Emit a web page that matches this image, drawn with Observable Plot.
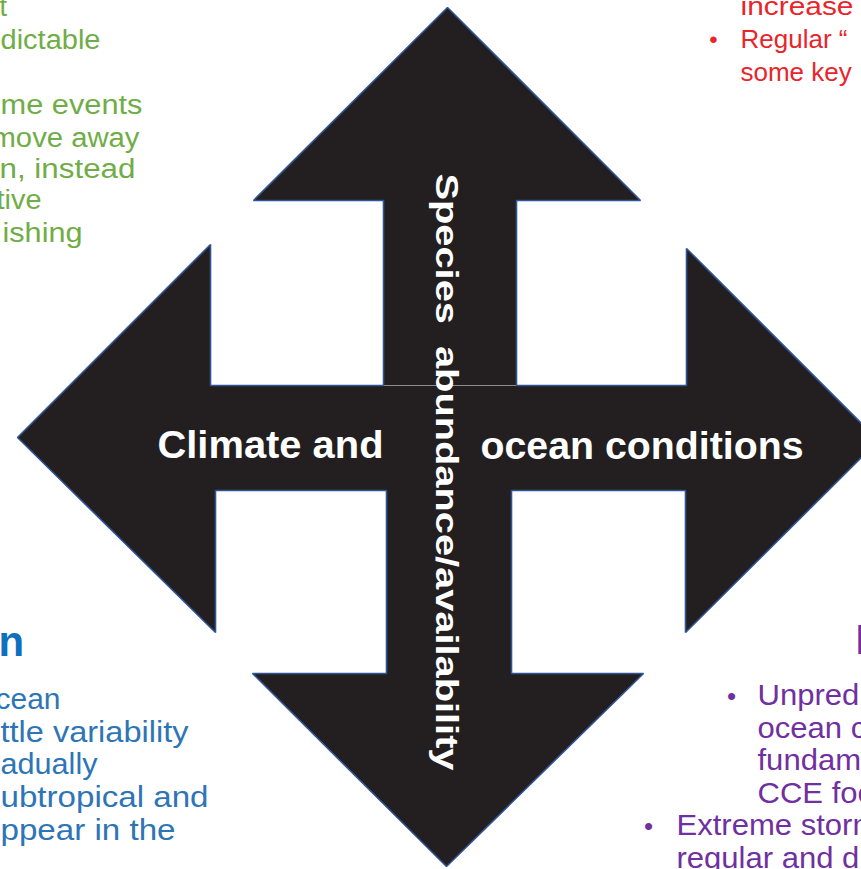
<!DOCTYPE html>
<html>
<head>
<meta charset="utf-8">
<script src="https://cdn.jsdelivr.net/npm/d3@7"></script>
<script src="https://cdn.jsdelivr.net/npm/@observablehq/plot@0.6"></script>
<style>
  html, body { margin: 0; padding: 0; background: #fff; overflow: hidden; }
  #chart svg { display: block; }
</style>
</head>
<body>
<div id="chart"></div>
<script>
// ---- Diagram content ----
// Outline of the four-headed arrow (diagram coordinates)
const arrowOutline = [
  [447, 7], [640, 200], [516, 200], [516, 385], [686, 385], [686, 248],
  [878, 440], [685, 632], [685, 490], [511, 490], [511, 673], [643, 673],
  [446, 866], [252, 673], [386, 673], [386, 490], [215, 490], [215, 632],
  [17, 437], [210, 244], [210, 385], [383, 385], [383, 200], [253, 200], [447, 7]
];
const seam = [[384, 385], [515, 385]];

// Texts
const centreLeftText = "Climate and";
const centreRightText = "ocean conditions";
const verticalText = "Species  abundance/availability";

const greenText = ["t", "dictable", "me events", "move away", "n, instead", "tive", "ishing"];
const redText = ["increase", "Regular \u201C", "some key"];
const blueTitle = "n";
const blueText = ["cean", "ttle variability", "adually", "ubtropical and", "ppear in the"];
const purpleTitle = "P";
const purpleText = ["Unpredictable", "ocean conditions", "fundamentally", "CCE food", "Extreme storms", "regular and dramatic"];

// ---- Layout (diagram coordinates: start x, baseline y, end x) ----
const centreLayout = [[157, 457, 383], [480, 458, 803]];
const verticalLayout = [435, 173, 770]; // baseline x, start y, end y
const greenLayout = [[-1, 15, null], [0, 48, 100], [0, 113, 142], [-9, 146, 139], [-1, 177, 135], [-4, 208, 41], [2, 241, 82]];
const redLayout = [[740, 14, 853], [740, 47, null], [740, 80, null]];
const redBullets = [[713, 47]];
const blueLayout = [[-5, 708, 60], [0, 741, 188], [0, 773, 97], [0, 806, 208], [0, 839, 175]];
const purpleLayout = [[757, 704], [757, 737], [757, 769], [757, 802], [676, 834], [676, 867]];
const purpleBullets = [[731, 704], [648, 834]];
const purpleStretch = 1.07;

const FONT = "Liberation Sans, Arial, Helvetica, sans-serif";

function rows(texts, layout) {
  return texts.map((t, i) => ({t, x: layout[i][0], y: layout[i][1], end: layout[i][2] ?? null}));
}
const centreRows = rows([centreLeftText, centreRightText], centreLayout);
const verticalRows = [{t: verticalText, x: verticalLayout[0], y: verticalLayout[1], start: verticalLayout[1], end: verticalLayout[2]}];
const greenRows = rows(greenText, greenLayout);
const redRows = rows(redText, redLayout);
const blueRows = rows(blueText, blueLayout);
const purpleRows = rows(purpleText, purpleLayout);

function textMark(data, opts) {
  return Plot.text(data, {
    x: "x", y: "y", text: "t",
    textAnchor: "start", lineAnchor: "bottom",
    fontFamily: FONT, ...opts
  });
}

const chart = Plot.plot({
  width: 861,
  height: 869,
  margin: 0,
  style: {background: "#ffffff", fontFamily: FONT},
  x: {domain: [0, 861], range: [0, 861], axis: null},
  y: {domain: [0, 869], range: [0, 869], axis: null},
  marks: [
    Plot.line(arrowOutline, {
      x: d => d[0], y: d => d[1],
      fill: "#231f20", stroke: "#2f5597", strokeWidth: 1.6,
      strokeLinejoin: "miter", strokeLinecap: "butt"
    }),
    Plot.line(seam, {x: d => d[0], y: d => d[1], stroke: "#8c8c8c", strokeWidth: 1}),

    // text groups, in this order: 0 centre, 1 vertical, 2 green, 3 red, 4 red bullets,
    // 5 blue title, 6 blue, 7 purple title, 8 purple, 9 purple bullets
    textMark(centreRows, {fill: "#ffffff", fontSize: 38, fontWeight: "bold"}),
    textMark(verticalRows, {fill: "#ffffff", fontSize: 32, fontWeight: "bold", rotate: 90}),
    textMark(greenRows, {fill: "#70ad47", fontSize: 27}),
    textMark(redRows, {fill: "#e9242b", fontSize: 26}),
    Plot.text(redBullets, {x: d => d[0], y: d => d[1], text: () => "\u2022", fill: "#e9242b", fontSize: 24, lineAnchor: "bottom", fontFamily: FONT}),
    textMark([{t: blueTitle, x: -2, y: 655}], {fill: "#1070c0", fontSize: 42, fontWeight: "bold"}),
    textMark(blueRows, {fill: "#2e75b6", fontSize: 29}),
    textMark([{t: purpleTitle, x: 855, y: 653}], {fill: "#7030a0", fontSize: 42, fontWeight: "bold"}),
    textMark(purpleRows, {fill: "#7030a0", fontSize: 29}),
    Plot.text(purpleBullets, {x: d => d[0], y: d => d[1], text: () => "\u2022", fill: "#7030a0", fontSize: 26, lineAnchor: "bottom", fontFamily: FONT})
  ]
});

document.getElementById("chart").appendChild(chart);

// stretch lines to the measured extents (the source text is horizontally scaled)
const groups = chart.querySelectorAll('g[aria-label="text"]');
function fit(group, rowsData) {
  if (!group) return;
  group.querySelectorAll("text").forEach((el, i) => {
    const r = rowsData[i];
    if (r && r.end != null && r.t.length > 1) {
      const len = r.end - (r.start ?? r.x);
      el.setAttribute("textLength", len);
      el.setAttribute("lengthAdjust", "spacingAndGlyphs");
    }
  });
}
fit(groups[0], centreRows);
fit(groups[1], verticalRows);
fit(groups[2], greenRows);
fit(groups[3], redRows);
fit(groups[6], blueRows);
if (groups[8]) groups[8].querySelectorAll("text").forEach(el => {
  const natural = el.getComputedTextLength();
  el.setAttribute("textLength", natural * purpleStretch);
  el.setAttribute("lengthAdjust", "spacingAndGlyphs");
});
</script>
</body>
</html>
